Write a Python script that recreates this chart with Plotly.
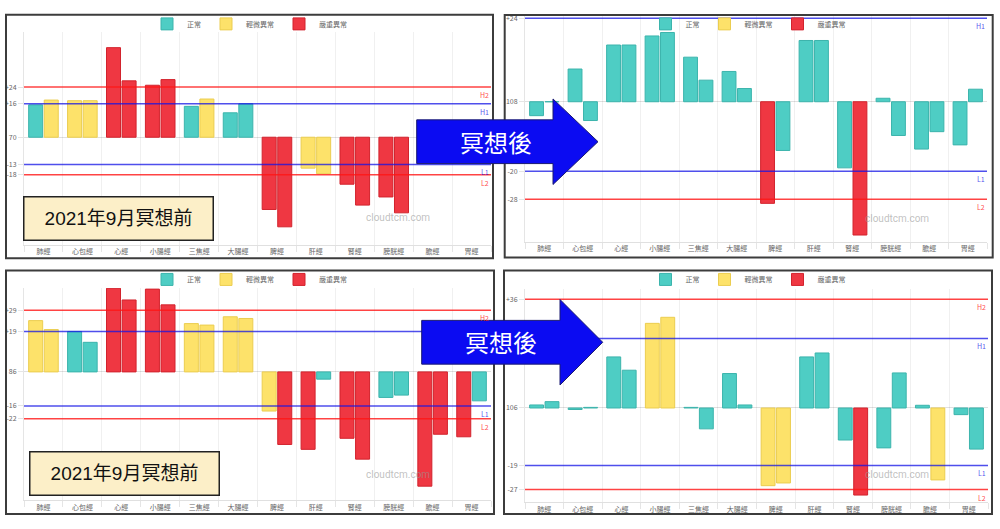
import plotly.graph_objects as go

W, H = 1000, 529

# ---------------- data ----------------
categories = ["肺經", "心包經", "心經", "小腸經", "三焦經", "大腸經",
              "脾經", "肝經", "腎經", "膀胱經", "膽經", "胃經"]
legend_names = ["正常", "輕微異常", "嚴重異常"]
status_codes = ["N", "S", "X"]

# Panel A: top-left (2021年9月 冥想前)
a_left = [15.5, 17.5, 42.9, 24.9, 14.8, 11.7, -34.6, -14.8, -22.5, -28.6, -9.0, -5.0]
a_left_status = ["N", "S", "X", "X", "N", "N", "X", "S", "X", "X", "N", "N"]
a_right = [17.8, 17.5, 27.0, 27.6, 18.3, 16.0, -42.9, -17.5, -32.5, -36.2, -7.0, -3.0]
a_right_status = ["S", "S", "X", "X", "S", "N", "X", "S", "X", "X", "N", "N"]
a_tickvals = [24, 16, 0, -13, -18]
a_ticktext = ["+24", "+16", "70", "-13", "-18"]
a_ref_labels = ["H2", "H1", "L1", "L2"]
a_ref_values = [24, 16, -13, -18]
a_ref_shown = [True, True, True, True]

# Panel B: top-right (冥想後)
b_left = [-4.0, 9.4, 16.3, 18.9, 12.8, 8.7, -29.2, 17.6, -19.0, 1.0, -13.6, -12.4]
b_left_status = ["N", "N", "N", "N", "N", "N", "X", "N", "N", "N", "N", "N"]
b_right = [0.0, -5.4, 16.3, 19.9, 6.2, 3.8, -14.0, 17.6, -38.3, -9.7, -8.6, 3.6]
b_right_status = ["N", "N", "N", "N", "N", "N", "N", "N", "X", "N", "N", "N"]
b_tickvals = [24, 0, -20, -28]
b_ticktext = ["+24", "108", "-20", "-28"]
b_ref_labels = ["H1", "L1", "L2"]
b_ref_values = [24, -20, -28]
b_ref_shown = [True, True, True]

# Panel C: bottom-left (2021年9月 冥想前)
c_left = [24.1, 19.0, 39.3, 38.9, 22.7, 25.9, -18.4, -36.4, -31.2, -12.0, -53.7, -30.5]
c_left_status = ["S", "N", "X", "X", "S", "S", "S", "X", "X", "N", "X", "X"]
c_right = [19.9, 13.9, 33.8, 31.5, 22.0, 25.1, -34.1, -3.4, -41.0, -10.9, -29.3, -13.6]
c_right_status = ["S", "N", "X", "X", "S", "S", "X", "N", "X", "N", "X", "N"]
c_tickvals = [29, 19, 0, -16, -22]
c_ticktext = ["+29", "+19", "86", "-16", "-22"]
c_ref_labels = ["H2", "H1", "L1", "L2"]
c_ref_values = [29, 19, -16, -22]
c_ref_shown = [True, False, True, True]   # H1 label is covered by the arrow

# Panel D: bottom-right (冥想後)
d_left = [1.0, -0.5, 16.9, 28.0, 0.2, 11.4, -25.7, 16.9, -10.6, -13.2, 0.9, -2.2]
d_left_status = ["N", "N", "N", "S", "N", "N", "S", "N", "N", "N", "N", "N"]
d_right = [2.1, 0.2, 12.5, 30.0, -6.9, 1.0, -24.8, 18.2, -28.8, 11.6, -23.8, -13.6]
d_right_status = ["N", "N", "N", "S", "N", "N", "S", "N", "X", "N", "S", "N"]
d_tickvals = [36, 0, -19, -27]
d_ticktext = ["+36", "106", "-19", "-27"]
d_ref_labels = ["H2", "H1", "L1", "L2"]
d_ref_values = [36, 23, -19, -27]
d_ref_shown = [True, True, True, True]

before_label = "2021年9月冥想前"
after_label = "冥想後"
watermark = "cloudtcm.com"

panels = [
    dict(left=a_left, left_status=a_left_status, right=a_right, right_status=a_right_status,
         tickvals=a_tickvals, ticktext=a_ticktext, ref_labels=a_ref_labels,
         ref_values=a_ref_values, ref_shown=a_ref_shown),
    dict(left=b_left, left_status=b_left_status, right=b_right, right_status=b_right_status,
         tickvals=b_tickvals, ticktext=b_ticktext, ref_labels=b_ref_labels,
         ref_values=b_ref_values, ref_shown=b_ref_shown),
    dict(left=c_left, left_status=c_left_status, right=c_right, right_status=c_right_status,
         tickvals=c_tickvals, ticktext=c_ticktext, ref_labels=c_ref_labels,
         ref_values=c_ref_values, ref_shown=c_ref_shown),
    dict(left=d_left, left_status=d_left_status, right=d_right, right_status=d_right_status,
         tickvals=d_tickvals, ticktext=d_ticktext, ref_labels=d_ref_labels,
         ref_values=d_ref_values, ref_shown=d_ref_shown),
]

# ---------------- styling / geometry (pixels) ----------------
fill = {"N": "rgba(78,205,196,1)", "S": "rgba(253,226,106,1)", "X": "rgba(239,55,66,1)"}
edge = {"N": "rgba(60,180,172,1)", "S": "rgba(235,205,80,1)", "X": "rgba(210,35,45,1)"}
ref_color = {"H2": "rgba(255,20,20,0.8)", "L2": "rgba(255,20,20,0.8)",
             "H1": "rgba(20,20,230,0.75)", "L1": "rgba(20,20,230,0.75)"}

# plot_left, plot_right, plot_top, plot_bottom, baseline_y, px_per_unit
geom = [
    (24, 491, 29.3, 243.3, 135.0, 2.10),
    (525, 987, 13.0, 240.0, 99.3, 3.50),
    (24, 491, 286.7, 500.0, 371.0, 2.14),
    (525, 988, 287.7, 502.0, 407.3, 3.04),
]
frames = [(6, 11.7, 493, 256.7), (504.7, 12, 992.7, 256), (6, 269, 494, 514), (504, 269, 992, 514)]
legend_pos = [(249.5, 21), (748, 21), (249.5, 278), (748, 278)]
watermark_pos = [(398, 216), (897, 217), (398, 474), (897, 474)]


def px(x):
    return x / W


def py(y):
    return 1 - y / H


FONT = "Noto Sans CJK TC, Noto Sans, sans-serif"

fig = go.Figure()
layout = dict(
    width=W, height=H, autosize=False,
    margin=dict(l=0, r=0, t=0, b=0, pad=0),
    paper_bgcolor="white", plot_bgcolor="white",
    barmode="overlay", showlegend=True,
    font=dict(family=FONT, size=7, color="#666"),
)
shapes = []
annotations = []

xs = list(range(len(categories)))
for p, (d, g) in enumerate(zip(panels, geom)):
    ax = "" if p == 0 else str(p + 1)
    leg = "legend" + ax
    gl, gr, gt, gb, base, s = g
    for side, off in (("left", -0.38), ("right", 0.02)):
        vals = d[side]
        st = d[side + "_status"]
        for code, name in zip(status_codes, legend_names):
            yv = [v if c == code else None for v, c in zip(vals, st)]
            fig.add_trace(go.Bar(
                x=xs, y=yv, offset=off, width=0.36,
                marker=dict(color=fill[code], line=dict(color=edge[code], width=1)),
                name=name, showlegend=(side == "left"), legend=leg,
                xaxis="x" + ax, yaxis="y" + ax, hoverinfo="skip",
            ))
    layout["xaxis" + ax] = dict(
        domain=[px(gl), px(gr)], anchor="y" + ax, range=[-0.5, len(categories) - 0.5],
        tickmode="array", tickvals=xs, ticktext=categories,
        showgrid=False, zeroline=False, showline=True, linecolor="rgba(0,0,0,0.12)", linewidth=1,
        ticks="", tickfont=dict(size=7, color="#666", family=FONT),
        minor=dict(tick0=-0.5, dtick=1, showgrid=True, gridcolor="rgba(0,0,0,0.06)",
                   ticks="outside", ticklen=6, tickcolor="rgba(0,0,0,0.1)"),
        fixedrange=True,
    )
    layout["yaxis" + ax] = dict(
        domain=[py(gb), py(gt)], anchor="x" + ax,
        range=[(base - gb) / s, (base - gt) / s],
        tickmode="array", tickvals=d["tickvals"], ticktext=d["ticktext"],
        showgrid=False, zeroline=True, zerolinecolor="rgba(0,0,0,0.12)", zerolinewidth=1,
        showline=True, linecolor="rgba(0,0,0,0.1)", linewidth=1,
        ticks="outside", ticklen=5, tickcolor="rgba(0,0,0,0.1)",
        tickfont=dict(size=7, color="#666", family=FONT), fixedrange=True,
    )
    lx, ly = legend_pos[p]
    layout[leg] = dict(
        orientation="h", x=px(lx), y=py(ly), xanchor="center", yanchor="middle",
        xref="paper", yref="paper", bgcolor="rgba(0,0,0,0)",
        font=dict(size=7, color="#666", family=FONT), itemwidth=30,
        tracegroupgap=0, itemclick=False, itemdoubleclick=False,
    )
    # reference lines + right-side labels
    for lab, val, shown in zip(d["ref_labels"], d["ref_values"], d["ref_shown"]):
        shapes.append(dict(type="line", xref="x" + ax + " domain", yref="y" + ax,
                           x0=0, x1=1, y0=val, y1=val,
                           line=dict(color=ref_color[lab], width=1.5), layer="above"))
        if shown:
            annotations.append(dict(text=lab, xref="x" + ax + " domain", yref="y" + ax,
                                    x=1, y=val, xanchor="right", yanchor="top", yshift=-1,
                                    showarrow=False,
                                    font=dict(size=7, color=ref_color[lab], family=FONT)))
    # panel frame
    fx0, fy0, fx1, fy1 = frames[p]
    shapes.append(dict(type="rect", xref="paper", yref="paper",
                       x0=px(fx0), x1=px(fx1), y0=py(fy1), y1=py(fy0),
                       line=dict(color="#3c3c3c", width=2), fillcolor="rgba(0,0,0,0)",
                       layer="above"))
    wx, wy = watermark_pos[p]
    annotations.append(dict(text=watermark, xref="paper", yref="paper", x=px(wx), y=py(wy),
                            xanchor="center", yanchor="middle", showarrow=False,
                            font=dict(size=10, color="rgba(150,150,150,0.6)", family="Roboto, sans-serif")))


def arrow_path(x0, xm, xt, yc, body_half, head_half):
    pts = [(x0, yc - body_half), (xm, yc - body_half), (xm, yc - head_half), (xt, yc),
           (xm, yc + head_half), (xm, yc + body_half), (x0, yc + body_half)]
    return "M " + " L ".join(f"{px(a):.5f},{py(b):.5f}" for a, b in pts) + " Z"


arrows = [(416.7, 553, 598, 139.5, 22, 43, 496, 139), (421.7, 560, 602.7, 341.2, 22, 43, 501, 340)]
for x0, xm, xt, yc, bh, hh, tx, ty in arrows:
    shapes.append(dict(type="path", xref="paper", yref="paper",
                       path=arrow_path(x0, xm, xt, yc, bh, hh),
                       fillcolor="#0b0bf2", line=dict(color="#1a1a70", width=1), layer="above"))
    annotations.append(dict(text=after_label, xref="paper", yref="paper", x=px(tx), y=py(ty),
                            xanchor="center", yanchor="middle", showarrow=False,
                            font=dict(size=24, color="white", family="Noto Sans CJK TC")))

# "before" labels
for cx, cy in [(118, 216.3), (124.7, 472.8)]:
    annotations.append(dict(text=before_label, xref="paper", yref="paper", x=px(cx), y=py(cy),
                            xanchor="center", yanchor="middle", showarrow=False,
                            width=186, height=40, align="center", valign="middle",
                            bgcolor="#fcefc8", bordercolor="#222", borderwidth=1.5, borderpad=1,
                            font=dict(size=19, color="#111",
                                      family="Liberation Sans, Noto Sans CJK TC, sans-serif")))

layout["shapes"] = shapes
layout["annotations"] = annotations
fig.update_layout(**layout)

fig.write_html("out.html", config={"displayModeBar": False, "staticPlot": True},
               post_script="document.body.style.margin='0px';document.body.style.overflow='hidden';")
